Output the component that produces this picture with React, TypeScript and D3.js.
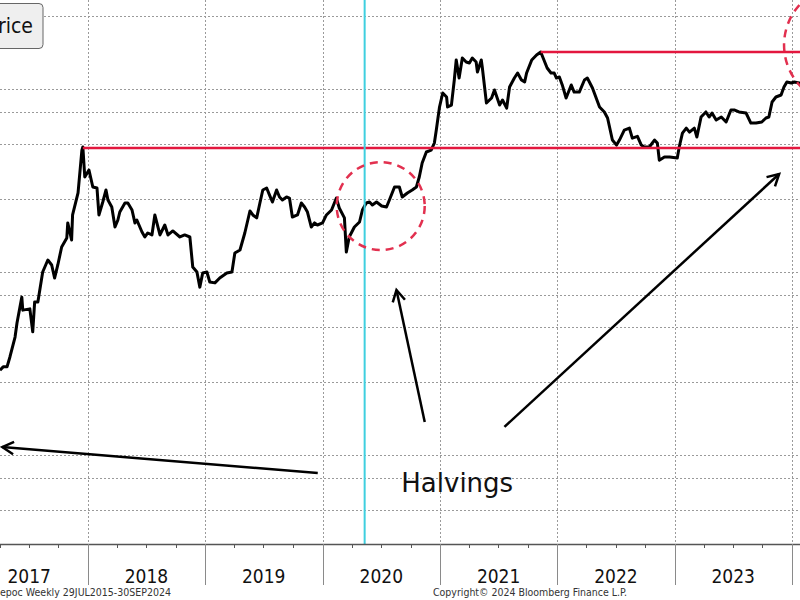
import React, { useEffect, useRef } from 'react';
import * as d3 from 'd3';

// weekly close (USD)
const weeklyClose: [string, number][] = [
  ['2017-04-02', 1160], ['2017-04-12', 1210], ['2017-04-24', 1210], ['2017-05-03', 1370], ['2017-05-19', 1760],
  ['2017-05-25', 2100], ['2017-06-09', 2910], ['2017-06-12', 2470], ['2017-07-04', 2510], ['2017-07-13', 1880],
  ['2017-07-19', 2740], ['2017-07-29', 2740], ['2017-08-13', 3990], ['2017-08-29', 4640], ['2017-09-10', 4360],
  ['2017-09-19', 3700], ['2017-09-29', 4360], ['2017-10-11', 5470], ['2017-10-27', 6120], ['2017-10-30', 7400],
  ['2017-11-11', 5970], ['2017-11-14', 8180], ['2017-12-01', 10790], ['2017-12-13', 18500], ['2017-12-16', 19240],
  ['2017-12-22', 13190], ['2018-01-04', 14400], ['2018-01-16', 11630], ['2018-01-29', 11480], ['2018-02-04', 8180],
  ['2018-02-16', 9630], ['2018-02-26', 11200], ['2018-03-04', 9870], ['2018-03-16', 9040], ['2018-03-26', 7030],
  ['2018-04-04', 7680], ['2018-04-10', 8490], ['2018-04-26', 9510], ['2018-05-05', 9510], ['2018-05-18', 8710],
  ['2018-05-27', 7400], ['2018-06-02', 7680], ['2018-06-18', 6600], ['2018-06-27', 6200], ['2018-07-06', 6520],
  ['2018-07-19', 6360], ['2018-07-28', 8180], ['2018-08-13', 6360], ['2018-08-28', 7210], ['2018-09-07', 6360],
  ['2018-09-22', 6690], ['2018-10-14', 6200], ['2018-10-29', 6360], ['2018-11-14', 6200], ['2018-11-23', 4250],
  ['2018-12-06', 3990], ['2018-12-15', 3300], ['2018-12-24', 3940],
  ['2019-01-06', 3990], ['2019-01-15', 3520], ['2019-01-31', 3480], ['2019-02-15', 3700], ['2019-03-09', 3940],
  ['2019-03-25', 3990], ['2019-04-03', 5070], ['2019-04-19', 5265], ['2019-05-04', 6520], ['2019-05-20', 8600],
  ['2019-05-29', 8180], ['2019-06-10', 7880], ['2019-06-20', 9510], ['2019-06-29', 11200], ['2019-07-11', 11480],
  ['2019-07-20', 10500], ['2019-07-29', 9630], ['2019-08-11', 11200], ['2019-08-20', 10250], ['2019-08-29', 9870],
  ['2019-09-11', 10250], ['2019-09-20', 10120], ['2019-09-29', 7975], ['2019-10-15', 8180], ['2019-10-27', 9510],
  ['2019-11-06', 9040], ['2019-11-15', 8490], ['2019-11-27', 7030], ['2019-12-07', 7400], ['2019-12-16', 7210],
  ['2020-01-01', 7400], ['2020-01-13', 8180], ['2020-01-29', 8710], ['2020-02-13', 10120], ['2020-02-22', 8930],
  ['2020-03-09', 7880], ['2020-03-15', 5130], ['2020-03-24', 6200], ['2020-04-09', 7030], ['2020-04-25', 7485],
  ['2020-05-04', 8710], ['2020-05-16', 9510], ['2020-05-26', 9630], ['2020-06-04', 9270], ['2020-06-17', 9630],
  ['2020-07-03', 9155], ['2020-07-18', 9040], ['2020-07-27', 9870], ['2020-08-12', 11630], ['2020-08-27', 11630],
  ['2020-09-05', 10250], ['2020-09-21', 10790], ['2020-10-06', 11200], ['2020-10-19', 11630], ['2020-10-28', 13190],
  ['2020-11-06', 15730], ['2020-11-19', 18070], ['2020-12-04', 18500], ['2020-12-14', 20230], ['2020-12-20', 23830],
  ['2020-12-30', 31820],
  ['2021-01-09', 37950], ['2021-01-21', 36100], ['2021-01-24', 31820], ['2021-02-05', 32600], ['2021-02-14', 44700],
  ['2021-02-20', 57500], ['2021-03-01', 45800], ['2021-03-11', 58960], ['2021-03-23', 56070], ['2021-04-02', 55400],
  ['2021-04-11', 58960], ['2021-04-23', 56070], ['2021-04-27', 49400], ['2021-05-09', 57500], ['2021-05-12', 52600],
  ['2021-05-25', 33460], ['2021-06-10', 35640], ['2021-06-19', 39400], ['2021-07-05', 32600], ['2021-07-14', 34760],
  ['2021-07-27', 31400], ['2021-08-05', 40900], ['2021-08-20', 45800], ['2021-08-30', 48800], ['2021-09-11', 44700],
  ['2021-09-21', 43600], ['2021-09-27', 48800], ['2021-10-13', 57500], ['2021-10-28', 61200], ['2021-11-10', 63600],
  ['2021-11-30', 52000], ['2021-12-12', 48800], ['2021-12-22', 48800], ['2021-12-29', 45800],
  ['2022-01-07', 46400], ['2022-01-16', 42000], ['2022-01-28', 35640], ['2022-02-13', 42000], ['2022-02-22', 38400],
  ['2022-03-10', 38400], ['2022-03-26', 44700], ['2022-04-04', 45800], ['2022-04-20', 40400], ['2022-05-12', 31800],
  ['2022-05-27', 29900], ['2022-06-06', 27700], ['2022-06-21', 21000], ['2022-07-04', 19700], ['2022-07-13', 21000],
  ['2022-07-28', 23800], ['2022-08-13', 24400], ['2022-08-22', 21500], ['2022-09-07', 22000], ['2022-09-19', 19700],
  ['2022-09-28', 19240], ['2022-10-14', 19240], ['2022-10-30', 21000], ['2022-11-08', 20200], ['2022-11-14', 16300],
  ['2022-11-30', 16970], ['2022-12-16', 16970],
  ['2023-01-09', 16750], ['2023-01-15', 19240], ['2023-01-25', 22900], ['2023-02-06', 24400], ['2023-02-16', 23200],
  ['2023-03-03', 24400], ['2023-03-11', 21800], ['2023-03-24', 28060], ['2023-04-08', 29900], ['2023-04-18', 28060],
  ['2023-04-27', 29500], ['2023-05-10', 27000], ['2023-05-26', 28060], ['2023-06-10', 26350], ['2023-06-25', 30650],
  ['2023-07-05', 30650], ['2023-07-20', 29900], ['2023-08-11', 29500], ['2023-08-26', 26000], ['2023-09-11', 26000],
  ['2023-09-29', 26350], ['2023-10-12', 27700], ['2023-10-21', 28060], ['2023-10-31', 33900], ['2023-11-12', 36100],
  ['2023-11-28', 37000], ['2023-12-07', 40900], ['2023-12-16', 43600], ['2023-12-30', 43050], ['2024-01-08', 43600],
  ['2024-01-23', 43050], ['2024-02-06', 43000],
];

const gridValues = [200, 300, 400, 1000, 2000, 3000, 4000, 10000, 20000, 30000, 40000, 100000];
const yearLabels = [2017, 2018, 2019, 2020, 2021, 2022, 2023];
const halvingDates = ['2020-05-11', '2024-04-20'];

// previous all-time highs (red levels)
const athLevels: [string, number][] = [['2017-12-16', 19000], ['2021-11-10', 63600]];

// dashed rings: date, price, radius px
const rings: [string, number, number][] = [['2020-06-30', 9150, 44], ['2024-06-11', 69400, 60]];

// arrows: tail [date, price] -> tip [date, price]
const arrows: [string, number, string, number][] = [
  ['2019-12-17', 318, '2017-04-09', 441],
  ['2020-11-14', 604, '2020-08-18', 3184],
  ['2021-07-20', 568, '2023-11-22', 13700],
];

const note: [string, number, string] = ['2020-09-02', 251, 'Halvings'];

export default function App() {
  const svgRef = useRef<SVGSVGElement>(null);

  useEffect(() => {
    document.body.style.margin = '0';
    if (!svgRef.current) return;
    const svg = d3.select(svgRef.current);
    svg.selectAll('*').remove();

    const parse = d3.utcParse('%Y-%m-%d');
    const x = d3.scaleUtc()
      .domain([parse('2018-01-01')!, parse('2024-01-01')!])
      .range([88, 792]);
    const y = d3.scaleLog().domain([1000, 100000]).range([382, 16]);
    const axisY = 544;
    const cond = '"DejaVu Sans Condensed", "DejaVu Sans", sans-serif';

    // horizontal dotted grid
    svg.append('g').selectAll('line').data(gridValues).join('line')
      .attr('x1', 0).attr('x2', 800)
      .attr('y1', d => Math.round(y(d)) + 0.5).attr('y2', d => Math.round(y(d)) + 0.5)
      .attr('stroke', '#9a9a9a').attr('stroke-dasharray', '2 2');

    // vertical grid at year boundaries
    const yearStarts = d3.range(2017, 2025).map(yr => new Date(Date.UTC(yr, 0, 1)));
    svg.append('g').selectAll('line').data(yearStarts).join('line')
      .attr('x1', d => Math.round(x(d)) + 0.5).attr('x2', d => Math.round(x(d)) + 0.5)
      .attr('y1', 0).attr('y2', axisY)
      .attr('stroke', '#9a9a9a').attr('stroke-dasharray', '2 2');

    // price line
    const line = d3.line<[string, number]>()
      .x(d => x(parse(d[0])!))
      .y(d => y(d[1]));
    svg.append('path')
      .datum(weeklyClose)
      .attr('fill', 'none')
      .attr('stroke', '#000')
      .attr('stroke-width', 3)
      .attr('stroke-linejoin', 'round')
      .attr('d', line);

    // ATH levels
    athLevels.forEach(([dt, v]) => {
      svg.append('line')
        .attr('x1', x(parse(dt)!)).attr('x2', 800)
        .attr('y1', y(v)).attr('y2', y(v))
        .attr('stroke', '#e3173e').attr('stroke-width', 2.5);
    });

    // halving markers
    halvingDates.forEach(dt => {
      svg.append('line')
        .attr('x1', x(parse(dt)!)).attr('x2', x(parse(dt)!))
        .attr('y1', 0).attr('y2', axisY)
        .attr('stroke', '#3fcfdf').attr('stroke-width', 2);
    });

    // dashed rings
    rings.forEach(([dt, v, r]) => {
      svg.append('circle')
        .attr('cx', x(parse(dt)!)).attr('cy', y(v)).attr('r', r)
        .attr('fill', 'none')
        .attr('stroke', '#e2304f').attr('stroke-width', 2.5)
        .attr('stroke-dasharray', '8 6');
    });

    // arrows
    arrows.forEach(([d0, v0, d1, v1]) => {
      const x0 = x(parse(d0)!), y0 = y(v0), x1 = x(parse(d1)!), y1 = y(v1);
      const a = Math.atan2(y0 - y1, x0 - x1);
      const head = 13, spread = 0.5;
      svg.append('line')
        .attr('x1', x0).attr('y1', y0).attr('x2', x1).attr('y2', y1)
        .attr('stroke', '#000').attr('stroke-width', 2.5);
      svg.append('path')
        .attr('d', `M${x1 + head * Math.cos(a + spread)},${y1 + head * Math.sin(a + spread)}L${x1},${y1}L${x1 + head * Math.cos(a - spread)},${y1 + head * Math.sin(a - spread)}`)
        .attr('fill', 'none').attr('stroke', '#000').attr('stroke-width', 2.5)
        .attr('stroke-linejoin', 'miter');
    });

    svg.append('text')
      .attr('x', x(parse(note[0])!)).attr('y', y(note[1]))
      .attr('font-family', '"DejaVu Sans", sans-serif')
      .attr('font-size', 26)
      .attr('fill', '#111')
      .text(note[2]);

    // x axis
    svg.append('line')
      .attr('x1', 0).attr('x2', 800).attr('y1', axisY + 0.5).attr('y2', axisY + 0.5)
      .attr('stroke', '#555').attr('stroke-width', 1.5);
    const quarters = d3.utcMonth.every(3)!.range(new Date(Date.UTC(2017, 0, 1)), new Date(Date.UTC(2024, 6, 1)))
      .filter(d => d.getUTCMonth() !== 0);
    svg.append('g').selectAll('line').data(quarters).join('line')
      .attr('x1', d => Math.round(x(d)) + 0.5).attr('x2', d => Math.round(x(d)) + 0.5)
      .attr('y1', axisY).attr('y2', axisY + 4)
      .attr('stroke', '#555');
    svg.append('g').selectAll('line').data(yearStarts).join('line')
      .attr('x1', d => Math.round(x(d)) + 0.5).attr('x2', d => Math.round(x(d)) + 0.5)
      .attr('y1', axisY).attr('y2', 585)
      .attr('stroke', '#8a8a8a');
    svg.append('g').selectAll('text').data(yearLabels).join('text')
      .attr('x', d => x(new Date(Date.UTC(d, 6, 2))))
      .attr('y', 583)
      .attr('text-anchor', 'middle')
      .attr('font-family', cond)
      .attr('font-size', 19)
      .attr('fill', '#111')
      .text(d => String(d));

    // legend box (cut off at the left edge)
    svg.append('rect')
      .attr('x', -10).attr('y', 3.5).attr('width', 53).attr('height', 45).attr('rx', 4)
      .attr('fill', '#efefef').attr('stroke', '#666');
    svg.append('text')
      .attr('x', 33).attr('y', 33)
      .attr('text-anchor', 'end')
      .attr('font-family', cond)
      .attr('font-size', 21)
      .attr('fill', '#111')
      .text('Price');

    // footer
    svg.append('text')
      .attr('x', 0).attr('y', 596)
      .attr('font-family', cond).attr('font-size', 10.5).attr('fill', '#333')
      .attr('textLength', 171).attr('lengthAdjust', 'spacingAndGlyphs')
      .text('epoc  Weekly 29JUL2015-30SEP2024');
    svg.append('text')
      .attr('x', 433).attr('y', 596)
      .attr('font-family', cond).attr('font-size', 10.5).attr('fill', '#333')
      .attr('textLength', 194).attr('lengthAdjust', 'spacingAndGlyphs')
      .text('Copyright© 2024 Bloomberg Finance L.P.');
  }, []);

  return <svg ref={svgRef} width={800} height={600} style={{ display: 'block', background: '#fff' }} />;
}
